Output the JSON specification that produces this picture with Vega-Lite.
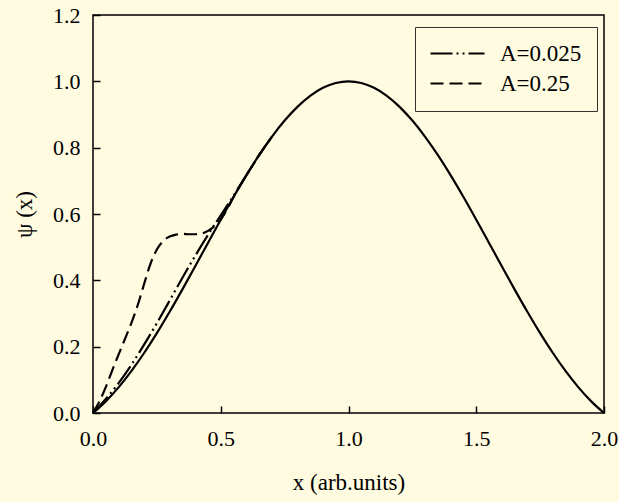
{
  "$schema": "https://vega.github.io/schema/vega-lite/v6.json",
  "width": 511,
  "height": 398,
  "autosize": "none",
  "padding": {"left": 93, "top": 15, "right": 15, "bottom": 89},
  "background": "#FFFBE0",
  "config": {
    "view": {"stroke": "black", "strokeWidth": 1.5, "fill": "#FFFBE0"},
    "axis": {
      "domain": false,
      "grid": false,
      "tickColor": "black",
      "tickWidth": 1.5,
      "tickSize": -7,
      "labelFont": "Liberation Serif",
      "labelFontSize": 22,
      "labelColor": "black",
      "labelFlush": false,
      "labelOverlap": false,
      "titleFont": "Liberation Serif",
      "titleFontSize": 23,
      "titleFontWeight": "normal",
      "titleColor": "black"
    }
  },
  "data": {
    "values": [
      {"s": "solid", "x": 0, "y": 0},
      {"s": "solid", "x": 0.05, "y": 0.0351},
      {"s": "solid", "x": 0.1, "y": 0.0773},
      {"s": "solid", "x": 0.15, "y": 0.1261},
      {"s": "solid", "x": 0.2, "y": 0.1809},
      {"s": "solid", "x": 0.25, "y": 0.2409},
      {"s": "solid", "x": 0.3, "y": 0.3053},
      {"s": "solid", "x": 0.35, "y": 0.3728},
      {"s": "solid", "x": 0.4, "y": 0.4424},
      {"s": "solid", "x": 0.45, "y": 0.5128},
      {"s": "solid", "x": 0.5, "y": 0.5828},
      {"s": "solid", "x": 0.55, "y": 0.6511},
      {"s": "solid", "x": 0.6, "y": 0.7163},
      {"s": "solid", "x": 0.65, "y": 0.7773},
      {"s": "solid", "x": 0.7, "y": 0.8327},
      {"s": "solid", "x": 0.75, "y": 0.8817},
      {"s": "solid", "x": 0.8, "y": 0.9231},
      {"s": "solid", "x": 0.85, "y": 0.9563},
      {"s": "solid", "x": 0.9, "y": 0.9804},
      {"s": "solid", "x": 0.95, "y": 0.9951},
      {"s": "solid", "x": 1.0, "y": 1.0},
      {"s": "solid", "x": 1.05, "y": 0.9951},
      {"s": "solid", "x": 1.1, "y": 0.9804},
      {"s": "solid", "x": 1.15, "y": 0.9563},
      {"s": "solid", "x": 1.2, "y": 0.9231},
      {"s": "solid", "x": 1.25, "y": 0.8817},
      {"s": "solid", "x": 1.3, "y": 0.8327},
      {"s": "solid", "x": 1.35, "y": 0.7773},
      {"s": "solid", "x": 1.4, "y": 0.7163},
      {"s": "solid", "x": 1.45, "y": 0.6511},
      {"s": "solid", "x": 1.5, "y": 0.5828},
      {"s": "solid", "x": 1.55, "y": 0.5128},
      {"s": "solid", "x": 1.6, "y": 0.4424},
      {"s": "solid", "x": 1.65, "y": 0.3728},
      {"s": "solid", "x": 1.7, "y": 0.3053},
      {"s": "solid", "x": 1.75, "y": 0.2409},
      {"s": "solid", "x": 1.8, "y": 0.1809},
      {"s": "solid", "x": 1.85, "y": 0.1261},
      {"s": "solid", "x": 1.9, "y": 0.0773},
      {"s": "solid", "x": 1.95, "y": 0.0351},
      {"s": "solid", "x": 2.0, "y": 0},
      {"s": "A=0.025", "x": 0, "y": 0},
      {"s": "A=0.025", "x": 0.05, "y": 0.042},
      {"s": "A=0.025", "x": 0.1, "y": 0.09},
      {"s": "A=0.025", "x": 0.15, "y": 0.145},
      {"s": "A=0.025", "x": 0.2, "y": 0.206},
      {"s": "A=0.025", "x": 0.25, "y": 0.271},
      {"s": "A=0.025", "x": 0.3, "y": 0.339},
      {"s": "A=0.025", "x": 0.35, "y": 0.408},
      {"s": "A=0.025", "x": 0.4, "y": 0.474},
      {"s": "A=0.025", "x": 0.45, "y": 0.537},
      {"s": "A=0.025", "x": 0.5, "y": 0.596},
      {"s": "A=0.025", "x": 0.55, "y": 0.655},
      {"s": "A=0.025", "x": 0.6, "y": 0.7163},
      {"s": "A=0.025", "x": 0.65, "y": 0.7773},
      {"s": "A=0.025", "x": 0.7, "y": 0.8327},
      {"s": "A=0.25", "x": 0, "y": 0},
      {"s": "A=0.25", "x": 0.025, "y": 0.035},
      {"s": "A=0.25", "x": 0.05, "y": 0.078},
      {"s": "A=0.25", "x": 0.075, "y": 0.128},
      {"s": "A=0.25", "x": 0.1, "y": 0.176},
      {"s": "A=0.25", "x": 0.125, "y": 0.223},
      {"s": "A=0.25", "x": 0.15, "y": 0.271},
      {"s": "A=0.25", "x": 0.175, "y": 0.325},
      {"s": "A=0.25", "x": 0.2, "y": 0.389},
      {"s": "A=0.25", "x": 0.225, "y": 0.45},
      {"s": "A=0.25", "x": 0.25, "y": 0.493},
      {"s": "A=0.25", "x": 0.275, "y": 0.519},
      {"s": "A=0.25", "x": 0.3, "y": 0.532},
      {"s": "A=0.25", "x": 0.325, "y": 0.538},
      {"s": "A=0.25", "x": 0.35, "y": 0.54},
      {"s": "A=0.25", "x": 0.375, "y": 0.539},
      {"s": "A=0.25", "x": 0.4, "y": 0.539},
      {"s": "A=0.25", "x": 0.425, "y": 0.541},
      {"s": "A=0.25", "x": 0.45, "y": 0.549},
      {"s": "A=0.25", "x": 0.475, "y": 0.563},
      {"s": "A=0.25", "x": 0.5, "y": 0.584},
      {"s": "A=0.25", "x": 0.525, "y": 0.614},
      {"s": "A=0.25", "x": 0.55, "y": 0.6511},
      {"s": "A=0.25", "x": 0.6, "y": 0.7163},
      {"s": "A=0.25", "x": 0.65, "y": 0.7773},
      {"s": "A=0.25", "x": 0.7, "y": 0.8327}
    ]
  },
  "encoding": {
    "x": {
      "field": "x",
      "type": "quantitative",
      "scale": {"domain": [0, 2], "nice": false},
      "axis": {
        "values": [0, 0.5, 1, 1.5, 2],
        "format": ".1f",
        "title": "x (arb.units)",
        "labelPadding": 22,
        "titlePadding": 22
      }
    },
    "y": {
      "field": "y",
      "type": "quantitative",
      "scale": {"domain": [0, 1.2], "nice": false},
      "axis": {
        "values": [0, 0.2, 0.4, 0.6, 0.8, 1, 1.2],
        "format": ".1f",
        "title": "ψ (x)",
        "labelPadding": 20,
        "titlePadding": 16
      }
    }
  },
  "layer": [
    {
      "transform": [{"filter": "datum.s === 'solid'"}],
      "mark": {"type": "line", "color": "black", "strokeWidth": 2.2, "interpolate": "monotone"}
    },
    {
      "transform": [{"filter": "datum.s !== 'solid'"}],
      "mark": {"type": "line", "color": "black", "strokeWidth": 2.2, "interpolate": "monotone"},
      "encoding": {
        "strokeDash": {
          "field": "s",
          "type": "nominal",
          "scale": {"domain": ["A=0.025", "A=0.25"], "range": [[22, 4, 2, 4, 2, 4], [13, 6]]},
          "legend": {
            "title": null,
            "orient": "none",
            "legendX": 322,
            "legendY": 12,
            "strokeColor": "#333333",
            "fillColor": "#FFFBE0",
            "padding": 15,
            "symbolType": "M-4,0H4",
            "symbolSize": 182.25,
            "symbolOffset": 16,
            "symbolStrokeWidth": 2,
            "symbolStrokeColor": "black",
            "labelFont": "Liberation Serif",
            "labelFontSize": 23,
            "labelColor": "black",
            "labelOffset": 31,
            "rowPadding": 6
          }
        }
      }
    }
  ]
}
